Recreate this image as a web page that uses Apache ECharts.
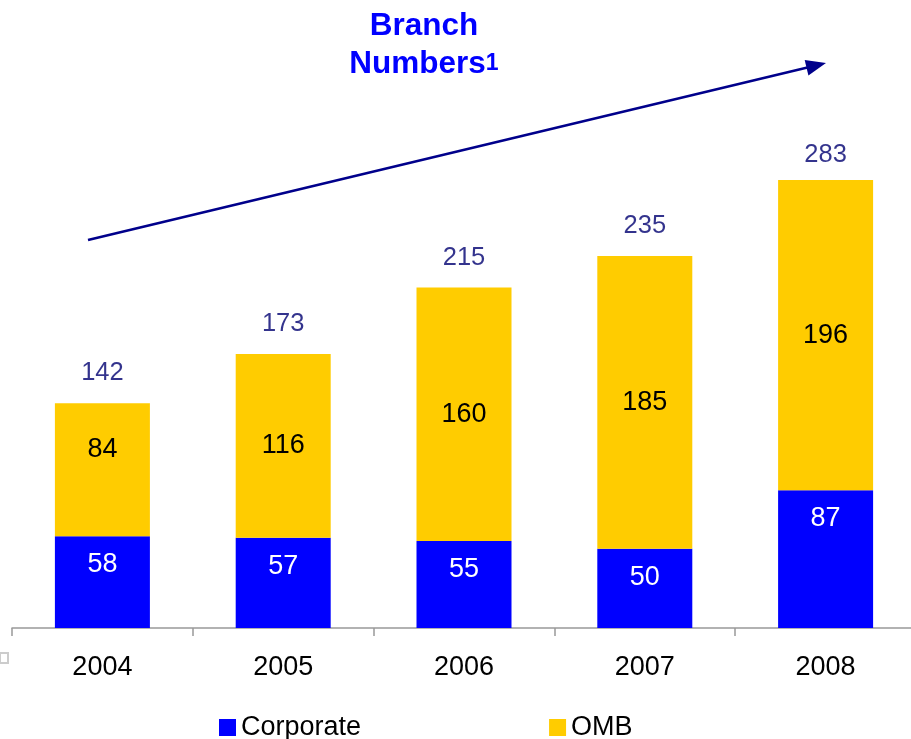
<!DOCTYPE html>
<html>
<head>
<meta charset="utf-8">
<script src="https://cdn.jsdelivr.net/npm/echarts@6/dist/echarts.min.js"></script>
<style>
html,body{margin:0;padding:0;background:#fff;}
#chart{width:911px;height:739px;}
</style>
</head>
<body>
<div id="chart"></div>
<script>
const categories = ['2004', '2005', '2006', '2007', '2008'];
const corporate = [58, 57, 55, 50, 87];
const omb = [84, 116, 160, 185, 196];
const totals = [142, 173, 215, 235, 283];

const FONT = '"Liberation Sans", Arial, sans-serif';
const chart = echarts.init(document.getElementById('chart'), null, {renderer: 'canvas'});

// arrow geometry (decoration)
const p0 = [88, 240], p1 = [826, 63];
const dx = p1[0] - p0[0], dy = p1[1] - p0[1];
const L = Math.sqrt(dx * dx + dy * dy);
const ux = dx / L, uy = dy / L;
const headLen = 20, headHalf = 8;
const base = [p1[0] - ux * headLen, p1[1] - uy * headLen];
const head = [
  p1,
  [base[0] - uy * headHalf, base[1] + ux * headHalf],
  [base[0] + uy * headHalf, base[1] - ux * headHalf]
];

chart.setOption({
  animation: false,
  backgroundColor: '#ffffff',
  textStyle: {fontFamily: FONT},
  title: {
    text: '{a|Branch}\n{a|Numbers}{b|1}',
    left: 424,
    top: 7,
    textAlign: 'center',
    padding: 0,
    textStyle: {
      rich: {
        a: {fontSize: 31.5, fontWeight: 'bold', color: '#0000FF', fontFamily: FONT, lineHeight: 38},
        b: {fontSize: 23, fontWeight: 'bold', color: '#0000FF', fontFamily: FONT, lineHeight: 38}
      }
    }
  },
  legend: {
    data: ['Corporate', 'OMB'],
    left: 219,
    top: 714,
    padding: 0,
    itemWidth: 17,
    itemHeight: 17,
    itemGap: 188,
    itemTextGap: 8,
    icon: 'rect',
    textStyle: {fontSize: 27, color: '#000', fontFamily: FONT, padding: [0, 0, 8, 0]}
  },
  grid: {left: 12, width: 904, top: 153, bottom: 111, containLabel: false, outerBoundsMode: 'none'},
  xAxis: {
    type: 'category',
    data: categories,
    boundaryGap: true,
    axisLine: {lineStyle: {color: '#999999', width: 1.5}},
    axisTick: {show: true, length: 8, lineStyle: {color: '#999999', width: 1.5}},
    axisLabel: {fontSize: 27, color: '#000', margin: 26, fontFamily: FONT}
  },
  yAxis: {
    type: 'value', min: 0, max: 300, show: false,
    splitLine: {show: false}
  },
  series: [
    {
      name: 'Corporate',
      type: 'bar',
      stack: 'total',
      barWidth: 95,
      data: corporate,
      itemStyle: {color: '#0000FF'},
      label: {
        show: true, position: 'insideTop', distance: 15,
        fontSize: 27, color: '#ffffff', fontFamily: FONT
      }
    },
    {
      name: 'OMB',
      type: 'bar',
      stack: 'total',
      barWidth: 95,
      data: omb.map((v, i) => i === 0 ? {value: v, label: {offset: [0, -20]}} : v),
      itemStyle: {color: '#FFCC00'},
      label: {
        show: true, position: 'inside', offset: [0, 0],
        fontSize: 27, color: '#000000', fontFamily: FONT
      }
    },
    {
      name: 'Total',
      type: 'scatter',
      data: totals.map((v, i) => i === totals.length - 1 ? {value: v, label: {offset: [0, 5]}} : v),
      symbolSize: 0,
      itemStyle: {color: 'rgba(0,0,0,0)'},
      silent: true,
      label: {
        show: true, position: 'top', distance: 17,
        fontSize: 25.5, color: '#000070', fontFamily: FONT
      }
    }
  ],
  graphic: [
    {
      type: 'line',
      shape: {x1: p0[0], y1: p0[1], x2: base[0] + ux * 2, y2: base[1] + uy * 2},
      style: {stroke: '#00008B', lineWidth: 2.5}
    },
    {
      type: 'polygon',
      shape: {points: head},
      style: {fill: '#00008B'}
    },
    {
      type: 'rect',
      shape: {x: 0, y: 653, width: 8, height: 10},
      style: {fill: '#fff', stroke: '#cccccc', lineWidth: 2}
    }
  ]
});
</script>
</body>
</html>
